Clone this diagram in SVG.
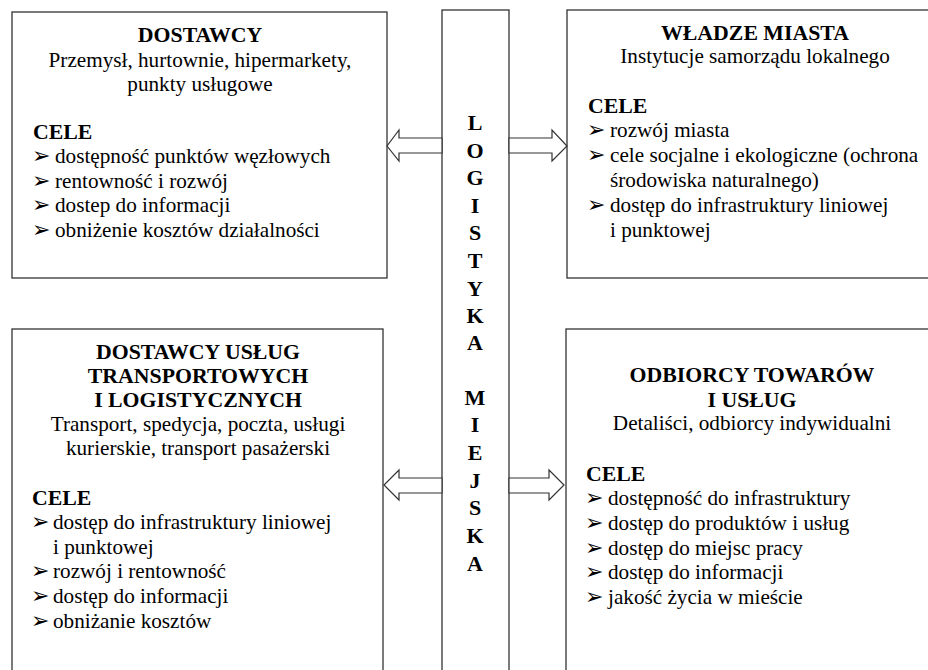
<svg xmlns="http://www.w3.org/2000/svg" width="928" height="670" viewBox="0 0 928 670">
<style>
.box{fill:#fff;stroke:#333;stroke-width:1.3}
.arr{fill:#fff;stroke:#333;stroke-width:1.2;stroke-linejoin:miter}
text{font-family:"Liberation Serif","Times New Roman",serif;font-size:21.2px;fill:#000}
.t{font-weight:bold;text-anchor:middle;font-size:21.8px}
.c{text-anchor:middle}
.b{font-weight:bold;font-size:21.8px}
.bl{font-family:"DejaVu Sans",sans-serif;font-size:22px}
.v{font-weight:bold;text-anchor:middle;font-size:22px}
</style>
<rect width="928" height="670" fill="#fff"/>
<g id="logistyka">
<rect class="box" x="442" y="10" width="67" height="670"/>
<text class="v" x="475" y="130">L</text>
<text class="v" x="475" y="158">O</text>
<text class="v" x="475" y="185">G</text>
<text class="v" x="475" y="213">I</text>
<text class="v" x="475" y="240">S</text>
<text class="v" x="475" y="268">T</text>
<text class="v" x="475" y="296">Y</text>
<text class="v" x="475" y="323">K</text>
<text class="v" x="475" y="350">A</text>
<text class="v" x="475" y="405">M</text>
<text class="v" x="475" y="432">I</text>
<text class="v" x="475" y="460">E</text>
<text class="v" x="475" y="488">J</text>
<text class="v" x="475" y="515">S</text>
<text class="v" x="475" y="543">K</text>
<text class="v" x="475" y="571">A</text>
</g>
<g id="dostawcy">
<rect class="box" x="12" y="12" width="375" height="266"/>
<text class="t" x="200" y="42">DOSTAWCY</text>
<text class="c" x="200" y="67">Przemysł, hurtownie, hipermarkety,</text>
<text class="c" x="200" y="91">punkty usługowe</text>
<text class="b" x="33" y="139">CELE</text>
<text class="bl" x="32" y="163">➢</text><text x="55" y="163">dostępność punktów węzłowych</text>
<text class="bl" x="32" y="188">➢</text><text x="55" y="188">rentowność i rozwój</text>
<text class="bl" x="32" y="212">➢</text><text x="55" y="212">dostep do informacji</text>
<text class="bl" x="32" y="237">➢</text><text x="55" y="237">obniżenie kosztów działalności</text>
</g>
<g id="wladze">
<rect class="box" x="567" y="10" width="380" height="268"/>
<text class="t" x="755" y="40">WŁADZE MIASTA</text>
<text class="c" x="755" y="63">Instytucje samorządu lokalnego</text>
<text class="b" x="588" y="113">CELE</text>
<text class="bl" x="587" y="137">➢</text><text x="610" y="137">rozwój miasta</text>
<text class="bl" x="587" y="162">➢</text><text x="610" y="162">cele socjalne i ekologiczne (ochrona</text>
<text x="610" y="187">środowiska naturalnego)</text>
<text class="bl" x="587" y="212">➢</text><text x="610" y="212">dostęp do infrastruktury liniowej</text>
<text x="610" y="237">i punktowej</text>
</g>
<g id="uslugi">
<rect class="box" x="12" y="329" width="371" height="360"/>
<text class="t" x="198" y="359">DOSTAWCY USŁUG</text>
<text class="t" x="198" y="383">TRANSPORTOWYCH</text>
<text class="t" x="198" y="407">I LOGISTYCZNYCH</text>
<text class="c" x="198" y="431">Transport, spedycja, poczta, usługi</text>
<text class="c" x="198" y="455">kurierskie, transport pasażerski</text>
<text class="b" x="32" y="505">CELE</text>
<text class="bl" x="31" y="529">➢</text><text x="53" y="529">dostęp do infrastruktury liniowej</text>
<text x="53" y="554">i punktowej</text>
<text class="bl" x="31" y="578">➢</text><text x="53" y="578">rozwój i rentowność</text>
<text class="bl" x="31" y="603">➢</text><text x="53" y="603">dostęp do informacji</text>
<text class="bl" x="31" y="628">➢</text><text x="53" y="628">obniżanie kosztów</text>
</g>
<g id="odbiorcy">
<rect class="box" x="566" y="329" width="380" height="360"/>
<text class="t" x="752" y="382">ODBIORCY TOWARÓW</text>
<text class="t" x="752" y="407">I USŁUG</text>
<text class="c" x="752" y="430">Detaliści, odbiorcy indywidualni</text>
<text class="b" x="586" y="481">CELE</text>
<text class="bl" x="585" y="505">➢</text><text x="608" y="505">dostępność do infrastruktury</text>
<text class="bl" x="585" y="530">➢</text><text x="608" y="530">dostęp do produktów i usług</text>
<text class="bl" x="585" y="555">➢</text><text x="608" y="555">dostęp do miejsc pracy</text>
<text class="bl" x="585" y="579">➢</text><text x="608" y="579">dostęp do informacji</text>
<text class="bl" x="585" y="604">➢</text><text x="608" y="604">jakość życia w mieście</text>
</g>
<g id="connectors">
<polygon class="arr" points="442,138 399,138 399,130 387,146 399,161 399,153 442,153"/>
<polygon class="arr" points="509,138 552,138 552,130 567,146 552,161 552,153 509,153"/>
<polygon class="arr" points="442,478 399,478 399,470 384,485 399,500 399,493 442,493"/>
<polygon class="arr" points="509,478 549,478 549,470 564,485 549,500 549,493 509,493"/>
</g>
</svg>
